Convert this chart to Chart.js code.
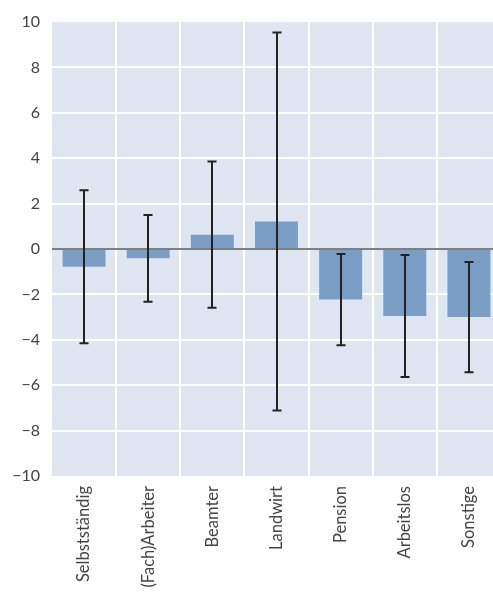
<!DOCTYPE html>
<html>
<head>
<meta charset="utf-8">
<script src="https://cdn.jsdelivr.net/npm/chart.js@4/dist/chart.umd.min.js"></script>
<style>
  html, body { margin: 0; padding: 0; background: #ffffff; overflow: hidden; }
  #wrap { position: absolute; left: 0; top: 0; width: 502px; height: 640px; }
</style>
</head>
<body>
<div id="wrap"><canvas id="chart" width="502" height="640"></canvas></div>
<script>
// Occupational groups and their mean deviation with error margins
const categories = ['Selbstständig', '(Fach)Arbeiter', 'Beamter', 'Landwirt', 'Pension', 'Arbeitslos', 'Sonstige'];
const means = [-0.78, -0.41, 0.63, 1.21, -2.23, -2.95, -3.0];
const errors = [3.37, 1.91, 3.22, 8.33, 2.01, 2.69, 2.43];
const yTicks = [-10, -8, -6, -4, -2, 0, 2, 4, 6, 8, 10];

const PANEL_BG = 'rgb(223,229,241)';
const BAR_COLOR = 'rgb(123,158,199)';
const TEXT_COLOR = '#444444';

// Panel background behind the plot
const panelBackground = {
  id: 'panelBackground',
  beforeDraw(chart) {
    const { ctx, chartArea: a } = chart;
    ctx.save();
    ctx.fillStyle = PANEL_BG;
    ctx.fillRect(a.left, a.top, a.right - a.left, a.bottom - a.top);
    ctx.restore();
  }
};

// Zero reference line and error bars drawn on top of the bars
const errorBars = {
  id: 'errorBars',
  afterDatasetsDraw(chart) {
    const { ctx, chartArea: a } = chart;
    const y = chart.scales.y;
    ctx.save();
    const y0 = Math.round(y.getPixelForValue(0));
    ctx.strokeStyle = '#555555';
    ctx.lineWidth = 1.6;
    ctx.beginPath();
    ctx.moveTo(a.left, y0);
    ctx.lineTo(a.right, y0);
    ctx.stroke();

    const meta = chart.getDatasetMeta(0);
    ctx.strokeStyle = '#222222';
    ctx.lineWidth = 2;
    meta.data.forEach((bar, i) => {
      const x = Math.round(bar.x);
      const top = y.getPixelForValue(means[i] + errors[i]);
      const bot = y.getPixelForValue(means[i] - errors[i]);
      ctx.beginPath();
      ctx.moveTo(x, top);
      ctx.lineTo(x, bot);
      ctx.moveTo(x - 4.5, top);
      ctx.lineTo(x + 4.5, top);
      ctx.moveTo(x - 4.5, bot);
      ctx.lineTo(x + 4.5, bot);
      ctx.stroke();
    });
    ctx.restore();
  }
};

new Chart(document.getElementById('chart'), {
  type: 'bar',
  data: {
    labels: categories,
    datasets: [{
      data: means,
      backgroundColor: BAR_COLOR,
      borderWidth: 0,
      categoryPercentage: 1,
      barPercentage: 0.67
    }]
  },
  options: {
    responsive: false,
    animation: false,
    devicePixelRatio: 1,
    layout: { padding: { top: 22, right: 1, left: 0, bottom: 0 } },
    plugins: { legend: { display: false }, tooltip: { enabled: false } },
    scales: {
      x: {
        border: { display: false },
        grid: {
          offset: true,
          drawTicks: false,
          lineWidth: 2,
          color: (c) => (c.index === 0 || c.index === categories.length) ? 'rgba(0,0,0,0)' : '#ffffff'
        },
        ticks: {
          minRotation: 90,
          maxRotation: 90,
          padding: 10,
          color: TEXT_COLOR,
          font: { family: 'Lato', size: 16.5 }
        },
        afterFit(scale) { scale.height = 640 - 476; }
      },
      y: {
        min: -10,
        max: 10,
        border: { display: false },
        grid: {
          drawTicks: false,
          lineWidth: 2,
          color: (c) => (c.tick && (c.tick.value === 10 || c.tick.value === -10)) ? 'rgba(0,0,0,0)' : '#ffffff'
        },
        afterBuildTicks(scale) { scale.ticks = yTicks.map(v => ({ value: v })); },
        ticks: {
          padding: 12,
          color: TEXT_COLOR,
          font: { family: 'Lato', size: 16 },
          callback: (v) => (v < 0 ? '\u2212' + Math.abs(v) : String(v))
        },
        afterFit(scale) { scale.width = 52; }
      }
    }
  },
  plugins: [panelBackground, errorBars]
});
</script>
</body>
</html>
